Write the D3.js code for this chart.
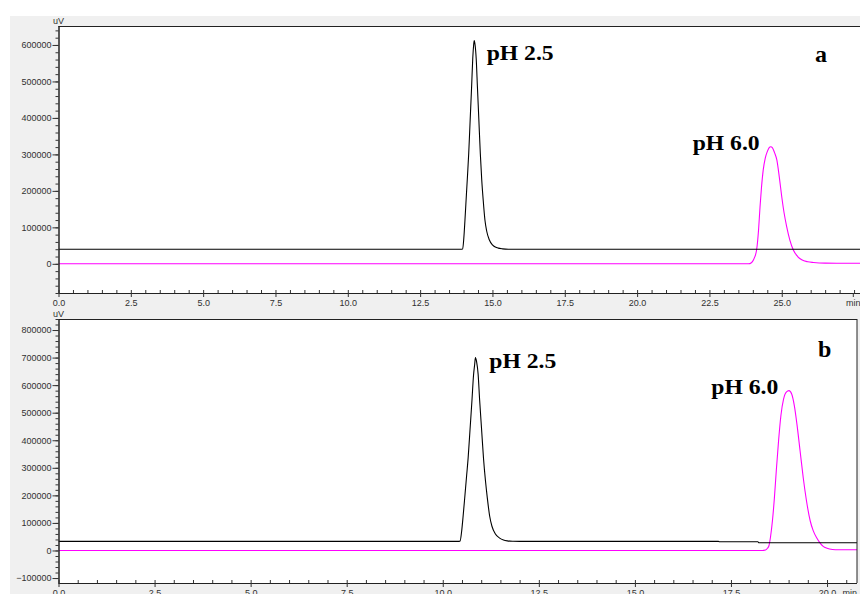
<!DOCTYPE html>
<html><head><meta charset="utf-8">
<script src="https://cdn.jsdelivr.net/npm/d3@7"></script>
<style>body{margin:0;background:#fff;overflow:hidden}</style>
</head><body>
<svg id="c" width="860" height="594"></svg>
<script>
// ---------- data (time in min, signal in uV) ----------
const aBlack = [[0,40000],[13.90,40000],[13.97,40500],[14.01,70000],[14.05,120000],[14.10,190000],[14.14,245000],[14.18,303000],[14.23,395000],[14.28,486000],[14.32,565000],[14.35,600000],[14.37,612000],[14.40,600000],[14.44,560000],[14.48,486000],[14.53,395000],[14.58,303000],[14.63,230000],[14.68,175000],[14.74,120000],[14.80,90000],[14.89,65800],[15.00,52000],[15.10,46000],[15.20,43000],[15.35,41000],[15.55,40000],[27.8,40000]];
const aPink = [[0,0],[23.85,0],[23.95,3000],[24.03,12000],[24.13,38000],[24.20,95000],[24.25,157000],[24.30,210000],[24.36,257600],[24.43,290000],[24.50,307700],[24.56,318000],[24.62,321000],[24.68,318000],[24.75,305000],[24.83,285000],[24.92,235000],[25.00,184000],[25.08,140000],[25.17,102000],[25.28,65000],[25.40,38000],[25.55,20000],[25.69,11000],[25.90,5500],[26.10,3600],[26.50,2000],[27.8,1500]];
const bBlack = [[0,33000],[10.38,33000],[10.45,34000],[10.49,68000],[10.53,125000],[10.58,205000],[10.62,270000],[10.66,335000],[10.71,440000],[10.76,545000],[10.80,635000],[10.83,675000],[10.85,700000],[10.88,685000],[10.92,640000],[10.96,545000],[11.01,440000],[11.06,335000],[11.11,255000],[11.16,190000],[11.22,125000],[11.28,88000],[11.37,60000],[11.48,45000],[11.58,38000],[11.68,35000],[11.83,33500],[12.0,33000],[17.17,33000],[17.20,31500],[18.20,31500],[18.23,28000],[20.8,28000]];
const bPink = [[0,0],[18.30,0],[18.40,2000],[18.45,8000],[18.49,18000],[18.53,50000],[18.58,108800],[18.63,190000],[18.68,290000],[18.74,400000],[18.80,490000],[18.87,550000],[18.94,575000],[19.01,580000],[19.08,568000],[19.15,525000],[19.22,455000],[19.30,360000],[19.38,265000],[19.46,185000],[19.56,108800],[19.64,72000],[19.73,46000],[19.82,27000],[19.90,15000],[20.00,8000],[20.14,3600],[20.30,2500],[20.8,2500]];

const aYTicks = [0,100000,200000,300000,400000,500000,600000];
const bYTicks = [-100000,0,100000,200000,300000,400000,500000,600000,700000,800000];
const aXTicks = [0,2.5,5,7.5,10,12.5,15,17.5,20,22.5,25];
const bXTicks = [0,2.5,5,7.5,10,12.5,15,17.5,20];
const yUnit = "uV", xUnit = "min";
const aLabels = [{t:"pH 2.5",x:14.80,v:612000},{t:"pH 6.0",x:21.92,v:322000}];
const bLabels = [{t:"pH 2.5",x:11.21,v:700000},{t:"pH 6.0",x:16.99,v:580000}];

// ---------- layout ----------
const svg = d3.select("#c");
svg.append("rect").attr("x",10).attr("y",16).attr("width",850).attr("height",578).attr("fill","#f0f0f0");

const panels = [
  {box:[58.5,862,26,293], xDom:[0,(862-58.5)/28.93], yDom:[-80000,652000], xt:aXTicks, yt:aYTicks,
   series:[aBlack,aPink], labels:aLabels, tag:"a", tagPos:[815,61.7], unitY:24, minX:853.3, labY:[59.5,150], rightBorder:false},
  {box:[58.5,857,319,583], xDom:[0,20.78], yDom:[-118000,840000], xt:bXTicks, yt:bYTicks,
   series:[bBlack,bPink], labels:bLabels, tag:"b", tagPos:[818,357], unitY:316.5, minX:849.7, labY:[368,394], rightBorder:true}
];
const colors = ["#000000","#ff00ff"];
const tickColor = "#333";
const font = "'Liberation Sans', Arial, sans-serif";

panels.forEach(p => {
  const [x0,x1,y0,y1] = p.box;
  const x = d3.scaleLinear().domain(p.xDom).range([x0,x1]);
  const y = d3.scaleLinear().domain(p.yDom).range([y1,y0]);
  const g = svg.append("g");
  g.append("rect").attr("x",x0).attr("y",y0).attr("width",x1-x0).attr("height",y1-y0).attr("fill","#fff");

  const cid = "clip"+p.tag;
  svg.append("clipPath").attr("id",cid).append("rect").attr("x",x0).attr("y",y0).attr("width",x1-x0).attr("height",y1-y0);

  const line = d3.line().x(d=>x(d[0])).y(d=>y(d[1])).curve(d3.curveMonotoneX);
  [1,0].forEach(i => {
    g.append("path").attr("d",line(p.series[i])).attr("fill","none")
     .attr("stroke",colors[i]).attr("stroke-width",1.1).attr("clip-path",`url(#${cid})`);
  });

  g.append("line").attr("x1",x0).attr("x2",x1).attr("y1",y0+0.5).attr("y2",y0+0.5).attr("stroke","#222");
  if (p.rightBorder) g.append("line").attr("x1",x1).attr("x2",x1).attr("y1",y0).attr("y2",y1).attr("stroke","#222");

  // y axis
  const yMinor = d3.range(Math.ceil(p.yDom[0]/20000)*20000, p.yDom[1]+1, 20000);
  const ya = g.append("g").attr("transform",`translate(${x0},0)`).call(d3.axisLeft(y).tickValues(yMinor).tickSize(3).tickFormat(""));
  const yb = g.append("g").attr("transform",`translate(${x0},0)`).call(d3.axisLeft(y).tickValues(p.yt).tickSize(6).tickPadding(1).tickFormat(d3.format("d")));
  [ya,yb].forEach(s=>{s.select(".domain").attr("stroke","#222").attr("d",`M0.5,${y0}V${y1}`);
    s.selectAll(".tick line").attr("stroke",tickColor);});
  yb.selectAll(".tick text").attr("font-family",font).attr("font-size",9).attr("fill","#303030");

  // x axis
  const xMinor = d3.range(0, p.xDom[1], 0.5);
  const xa = g.append("g").attr("transform",`translate(0,${y1})`).call(d3.axisBottom(x).tickValues(xMinor).tickSize(-3).tickFormat(""));
  const xb = g.append("g").attr("transform",`translate(0,${y1})`).call(d3.axisBottom(x).tickValues(p.xt).tickSize(4).tickPadding(3).tickFormat(d3.format(".1f")));
  [xa,xb].forEach(s=>{s.select(".domain").attr("stroke","#222").attr("d",`M${x0},0.5H${x1}`);
    s.selectAll(".tick line").attr("stroke",tickColor);});
  xb.selectAll(".tick text").attr("font-family",font).attr("font-size",9).attr("fill","#303030");
  if (p.tag==="a") {
    g.append("line").attr("x1",p.minX).attr("x2",p.minX).attr("y1",y1).attr("y2",y1+4).attr("stroke",tickColor);
  }
  g.append("text").attr("x",p.minX).attr("y",y1+12.5).attr("text-anchor","middle")
   .attr("font-family",font).attr("font-size",9).attr("fill","#303030").text(xUnit);

  g.append("text").attr("x",x0).attr("y",p.unitY).attr("text-anchor","middle")
   .attr("font-family",font).attr("font-size",9).attr("fill","#303030").text(yUnit);

  p.labels.forEach((l,i) => {
    g.append("text").attr("x",x(l.x)).attr("y",p.labY[i])
     .attr("font-family","'Liberation Serif','Times New Roman',serif").attr("font-weight","bold")
     .attr("font-size",20).attr("textLength",67).attr("lengthAdjust","spacingAndGlyphs").attr("fill","#000").text(l.t);
  });
  g.append("text").attr("x",p.tagPos[0]).attr("y",p.tagPos[1])
   .attr("font-family","'Liberation Serif','Times New Roman',serif").attr("font-weight","bold")
   .attr("font-size",24).attr("fill","#000").text(p.tag);
});
</script>
</body></html>
